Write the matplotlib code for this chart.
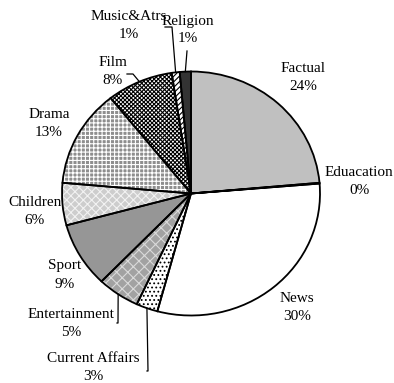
import numpy as np
import matplotlib.pyplot as plt

plt.rcParams["font.family"] = ["Liberation Serif", "DejaVu Serif"]
plt.rcParams["hatch.linewidth"] = 0.8

# audience share by programme genre (clockwise from 12 o'clock)
categories = ["Factual", "Eduacation", "News", "Current Affairs", "Entertainment",
              "Sport", "Children", "Drama", "Film", "Music&Atrs", "Religion"]
shares = [23.6, 0.1, 30.5, 2.7, 5.3, 8.6, 5.6, 12.9, 8.3, 1.0, 1.4]

face_colors = ["#c0c0c0", "#c0c0c0", "#ffffff", "#ffffff", "#a2a2a2", "#969696",
               "#cdcdcd", "#8e8e8e", "#ffffff", "#ffffff", "#333333"]
hatches = [None, None, None, "....", "xxx", None, "xxxx", "++++", "xxxxxxxx", "//////", None]
hatch_colors = ["#c0c0c0", "#c0c0c0", "#ffffff", "black", "#dadada", "#969696",
                "#f2f2f2", "#ffffff", "black", "black", "#333333"]

# layout in pixels of the 394x383 picture
W, H = 394, 383
CX, CY = 191, 193.5
RX, RY = 129, 122

label_px = {
    "Factual": (303, 77), "Eduacation": (359, 182), "News": (297, 307),
    "Current Affairs": (93, 368), "Entertainment": (71, 323), "Sport": (65, 275),
    "Children": (35, 211), "Drama": (49, 123), "Film": (113, 72),
    "Music&Atrs": (129, 26), "Religion": (188, 30),
}
leader_px = {
    "Film": [(127, 74), (133, 74)],
    "Music&Atrs": [(165, 27), (172, 27)],
    "Religion": [(187, 51)],
    "Entertainment": [(117, 323), (118, 323)],
    "Current Affairs": [(147, 371), (148, 371)],
}


def to_data(px, py):
    return (px - CX) / RX, (CY - py) / RY


fig = plt.figure(figsize=(W / 100, H / 100), dpi=100)
ax = fig.add_axes([0, 0, 1, 1])

wedges, _ = ax.pie(shares, startangle=90, counterclock=False, radius=1,
                   colors=face_colors, wedgeprops=dict(linewidth=0))
for w, h, hc in zip(wedges, hatches, hatch_colors):
    w.set_edgecolor(hc)
    w.set_linewidth(0)
    if h:
        w.set_hatch(h)

# outlines on top
ax.pie(shares, startangle=90, counterclock=False, radius=1,
       wedgeprops=dict(fill=False, edgecolor="black", linewidth=1.3))

ax.set_aspect("auto")
ax.set_xlim(-CX / RX, (W - CX) / RX)
ax.set_ylim(-(H - CY) / RY, CY / RY)
ax.axis("off")

total = sum(shares)
for w, name, val in zip(wedges, categories, shares):
    lx, ly = to_data(*label_px[name])
    ax.text(lx, ly, "%s\n%.0f%%" % (name, val / total * 100), ha="center", va="center",
            multialignment="center", fontsize=11, linespacing=1.5)
    if name in leader_px:
        mid = np.deg2rad((w.theta1 + w.theta2) / 2)
        pts = [to_data(*p) for p in leader_px[name]] + [(np.cos(mid), np.sin(mid))]
        xs, ys = zip(*pts)
        ax.plot(xs, ys, color="black", linewidth=0.9)

fig.savefig("out.png", dpi=100)
